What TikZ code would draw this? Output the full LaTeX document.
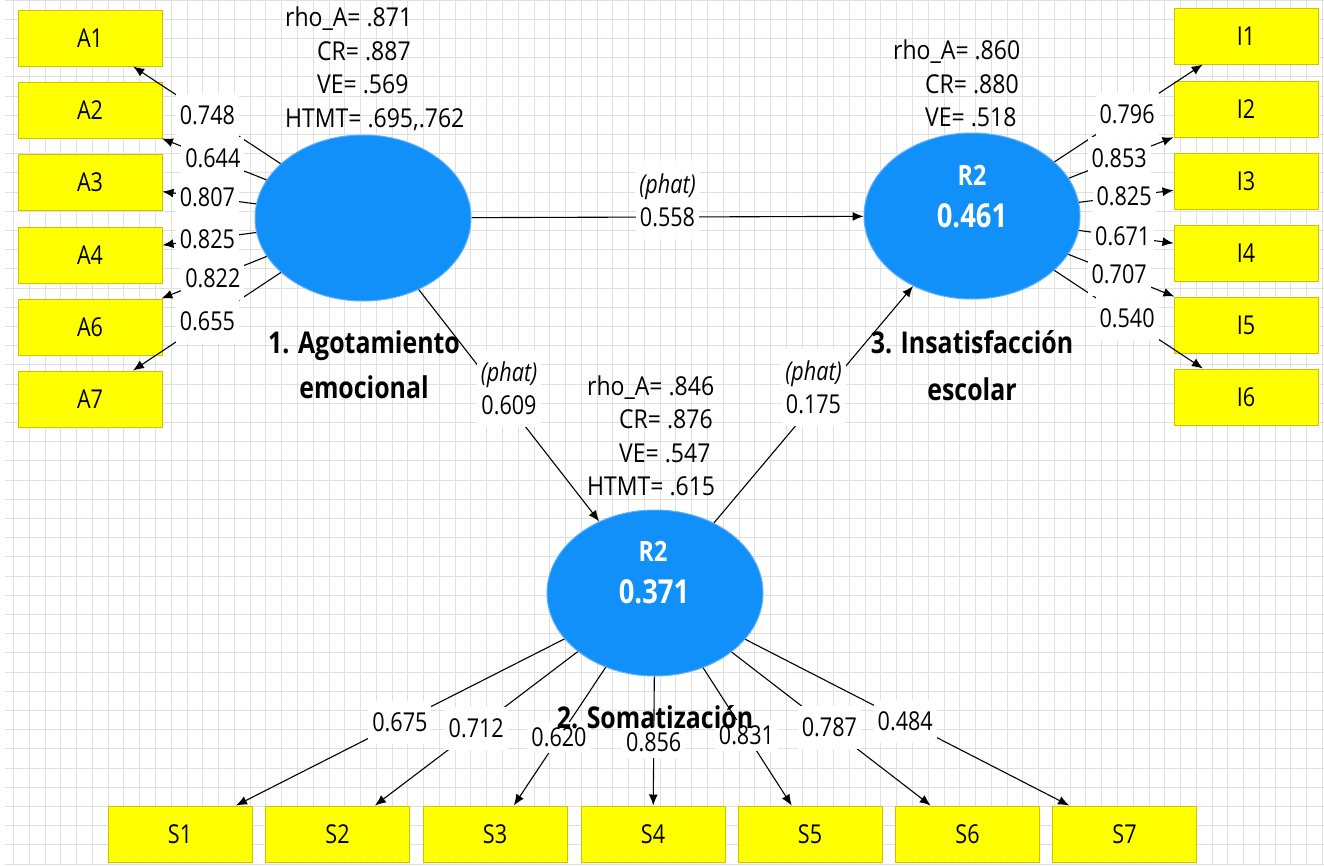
\documentclass[tikz,border=0pt]{standalone}
\usepackage{fontspec}
\setmainfont{Open Sans}[FakeStretch=0.83]
\newfontfamily\statfont{Open Sans}[FakeStretch=0.885]
\usetikzlibrary{shapes.geometric,arrows.meta,calc}
\definecolor{lvblue}{RGB}{18,144,250}
\definecolor{lvedge}{RGB}{95,175,255}
\definecolor{indfill}{RGB}{255,255,0}
\definecolor{indedge}{RGB}{205,195,0}
\definecolor{gridc}{RGB}{224,224,224}
\begin{document}
\begin{tikzpicture}[x=1pt,y=-1pt,
  ind/.style={draw=indedge, line width=1pt, fill=indfill, minimum width=144pt, minimum height=56pt, inner sep=0pt, font=\fontsize{26pt}{31pt}\selectfont},
  lv/.style={ellipse, fill=lvblue, draw=lvedge, line width=1pt, minimum width=216pt, minimum height=166pt, inner sep=0pt},
  arr/.style={-{Latex[length=11pt,width=9pt]}, line width=1.1pt},
  ld/.style={fill=white, inner xsep=4pt, inner ysep=12pt, font=\fontsize{26pt}{31pt}\selectfont},
  lds/.style={fill=white, inner xsep=4pt, inner ysep=6pt, font=\fontsize{26pt}{31pt}\selectfont},
  hat/.style={fill=white, inner xsep=4pt, inner ysep=2pt, text height=30pt, text depth=6pt, anchor=base, font=\itshape\fontsize{26pt}{31pt}\selectfont},
  stat/.style={anchor=base west, inner sep=0pt, font=\statfont\fontsize{26pt}{31pt}\selectfont},
  lvname/.style={anchor=base, inner sep=0pt, font=\bfseries\fontsize{30pt}{36pt}\selectfont},
  rtwo/.style={anchor=base, inner sep=0pt, text=white, font=\bfseries\fontsize{28pt}{34pt}\selectfont},
  rval/.style={anchor=base, inner sep=0pt, text=white, font=\bfseries\fontsize{33pt}{40pt}\selectfont},
  gridline/.style={draw=gridc, line width=0.8pt}
]
\useasboundingbox (0,0) rectangle (1324,865);
\fill[white] (0,0) rectangle (1324,865);
% background grid
\foreach \k in {0,...,83} \draw[gridline] ({13.5+15.77*\k},0) -- ({13.5+15.77*\k},865);
\foreach \k in {0,...,45} \draw[gridline] (5,{19.2*\k}) -- (1324,{19.2*\k});

% indicators
\node[ind] (A1) at (90,38) {A1};
\node[ind] (A2) at (90,110) {A2};
\node[ind] (A3) at (90,182) {A3};
\node[ind] (A4) at (90,255) {A4};
\node[ind] (A6) at (90,327) {A6};
\node[ind] (A7) at (90,399) {A7};
\node[ind] (I1) at (1246,36) {I1};
\node[ind] (I2) at (1246,109) {I2};
\node[ind] (I3) at (1246,181) {I3};
\node[ind] (I4) at (1246,253) {I4};
\node[ind] (I5) at (1246,325) {I5};
\node[ind] (I6) at (1246,397) {I6};
\node[ind] (S1) at (180,834) {S1};
\node[ind] (S2) at (337.5,834) {S2};
\node[ind] (S3) at (495,834) {S3};
\node[ind] (S4) at (653,834) {S4};
\node[ind] (S5) at (810,834) {S5};
\node[ind] (S6) at (967.5,834) {S6};
\node[ind] (S7) at (1124.5,834) {S7};

% latent variables
\node[lv] (E1) at (363,218) {};
\node[lv] (E3) at (972,216) {};
\node[lv] (E2) at (655,593) {};
\node[rtwo] (E3r) at (972,185) {R2};
\node[rval] (E3v) at (972,227) {0.461};
\node[rtwo] (E2r) at (653,561) {R2};
\node[rval] (E2v) at (654,603) {0.371};

% statistics
\node[stat] (s1a) at (285,26) {rho\_A= .871};
\node[stat] (s1b) at (317,60) {CR= .887};
\node[stat] (s1c) at (317,93) {VE= .569};
\node[stat] (s1d) at (285,127) {HTMT= .695,.762};
\node[stat] (s3a) at (893,59) {rho\_A= .860};
\node[stat] (s3b) at (925,93) {CR= .880};
\node[stat] (s3c) at (925,126) {VE= .518};
\node[stat] (s2a) at (587,395) {rho\_A= .846};
\node[stat] (s2b) at (619,428) {CR= .876};
\node[stat] (s2c) at (619,462) {VE= .547};
\node[stat] (s2d) at (587,495) {HTMT= .615};

% construct names
\node[lvname] (n1a) at (364,353) {1. Agotamiento};
\node[lvname] (n1b) at (364,398) {emocional};
\node[lvname] (n3a) at (972,353) {3. Insatisfacción};
\node[lvname] (n3b) at (972,400) {escolar};

% connectors
\foreach \t in {A1,A2,A3,A4,A6,A7} \draw[arr] (E1) -- (\t);
\foreach \t in {I1,I2,I3,I4,I5,I6} \draw[arr] (E3) -- (\t);
\foreach \t in {S1,S2,S3,S4,S5,S6,S7} \draw[arr] (E2) -- (\t);
\draw[arr] (E1) -- (E3);
\draw[arr] (E1) -- (E2);
\draw[arr] (E2) -- (E3);

% loading labels
\node[ld] (lA1) at ($(E1)!.57!(A1)$) {0.748};
\node[ld] (lA2) at ($(E1)!.55!(A2)$) {0.644};
\node[ld] (lA3) at ($(E1)!.57!(A3)$) {0.807};
\node[ld] (lA4) at ($(E1)!.57!(A4)$) {0.825};
\node[ld] (lA6) at ($(E1)!.55!(A6)$) {0.822};
\node[ld] (lA7) at ($(E1)!.57!(A7)$) {0.655};
\node[ld] (lI1) at ($(E3)!.566!(I1)$) {0.796};
\node[ld] (lI2) at ($(E3)!.537!(I2)$) {0.853};
\node[ld] (lI3) at ($(E3)!.555!(I3)$) {0.825};
\node[ld] (lI4) at ($(E3)!.55!(I4)$) {0.671};
\node[ld] (lI5) at ($(E3)!.537!(I5)$) {0.707};
\node[ld] (lI6) at ($(E3)!.566!(I6)$) {0.540};
\node[ld] (lS1) at ($(E2)!.537!(S1)$) {0.675};
\node[ld] (lS2) at ($(E2)!.563!(S2)$) {0.712};
\node[lds] (lS3) at ($(E2)!.6!(S3)$) {0.620};
\node[lds] (lS4) at ($(E2)!.62!(S4)$) {0.856};
\node[lds] (lS5) at ($(E2)!.59!(S5)$) {0.831};
\node[ld] (lS6) at ($(E2)!.558!(S6)$) {0.787};
\node[ld] (lS7) at ($(E2)!.533!(S7)$) {0.484};

% path labels
\node[ld] (p13) at ($(E1)!.5!(E3)$) {0.558};
\node[hat] (h13) at ($(p13.center)+(0,-24)$) {(phat)};
\node[ld] (p12) at ($(E1)!.5!(E2)$) {0.609};
\node[hat] (h12) at ($(p12.center)+(0,-24)$) {(phat)};
\node[ld] (p23) at ($(E2)!.5!(E3)$) {0.175};
\node[hat] (h23) at ($(p23.center)+(0,-24)$) {(phat)};

% name of the third construct, printed over the loading lines
\node[lvname] (n2a) at (655,728) {2. Somatización};
\end{tikzpicture}
\end{document}
